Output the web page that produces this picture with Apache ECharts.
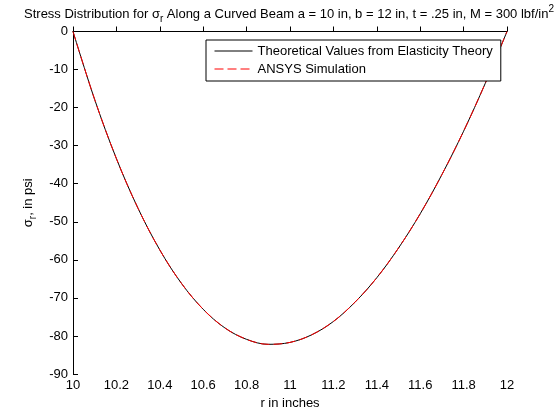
<!doctype html>
<html lang="en">
<head>
	<meta charset="utf-8" />
	<title>Stress Distribution</title>
	<script src="https://cdn.jsdelivr.net/npm/echarts@6/dist/echarts.min.js"></script>
	<style>
		html, body { margin: 0; padding: 0; background: #fff; }
		#chart { width: 560px; height: 420px; }
	</style>
</head>
<body>
	<div id="chart"></div>
	<script>
		// radius (in) and sigma_r (psi)
		const radius = [10.0, 10.1, 10.2, 10.3, 10.4, 10.5, 10.6, 10.7, 10.8, 10.9, 11.0,
			11.1, 11.2, 11.3, 11.4, 11.5, 11.6, 11.7, 11.8, 11.9, 12.0];
		const theorySigma = [0, -17.9, -33.4, -46.5, -57.4, -66.2, -73.0, -77.9, -80.9, -82.2, -81.7,
			-79.7, -76.2, -71.1, -64.7, -56.9, -47.9, -37.6, -26.2, -13.6, 0];
		const ansysSigma = [0, -17.9, -33.4, -46.5, -57.4, -66.2, -73.0, -77.9, -80.9, -82.2, -81.7,
			-79.7, -76.2, -71.1, -64.7, -56.9, -47.9, -37.6, -26.2, -13.6, 0];
		const seriesNames = ['Theoretical Values from Elasticity Theory', 'ANSYS Simulation'];
		const seriesColors = ['#000000', '#ff0000'];

		const font = '"Liberation Sans", Arial, sans-serif';
		const pair = (xs, ys) => xs.map((x, i) => [x, ys[i]]);

		const chart = echarts.init(document.getElementById('chart'), null, { renderer: 'canvas' });
		chart.setOption({
			backgroundColor: '#fff',
			animation: false,
			textStyle: { fontFamily: font },
			title: {
				text: 'Stress Distribution for {g|σ}{sub|r} Along a Curved Beam a = 10 in, b = 12 in, t = .25 in, M = 300 lbf/in{sup|2}',
				left: 289,
				top: 4,
				textAlign: 'center',
				padding: 0,
				textStyle: {
					fontFamily: font,
					fontSize: 13,
					fontWeight: 'normal',
					color: '#000',
					lineHeight: 20,
					rich: {
						g: { fontFamily: font, fontSize: 13, color: '#000', lineHeight: 20 },
						sub: { fontFamily: font, fontSize: 10, color: '#000', lineHeight: 11, verticalAlign: 'bottom' },
						sup: { fontFamily: font, fontSize: 10, color: '#000', lineHeight: 11, verticalAlign: 'top' }
					}
				}
			},
			grid: { left: 73, right: 53, top: 31.5, bottom: 46, containLabel: false },
			legend: {
				left: 206,
				top: 40,
				orient: 'vertical',
				backgroundColor: '#fff',
				borderColor: '#000',
				borderWidth: 1,
				borderRadius: 0,
				padding: [4, 8, 5, 8],
				itemGap: 4,
				itemWidth: 38,
				itemHeight: 14,
				itemStyle: { opacity: 0 },
				lineStyle: { width: 1 },
				textStyle: { fontFamily: font, fontSize: 13, color: '#000', lineHeight: 14 },
				data: seriesNames
			},
			xAxis: {
				type: 'value',
				min: 10,
				max: 12,
				interval: 0.2,
				name: 'r in inches',
				nameLocation: 'middle',
				nameGap: 23,
				nameTextStyle: { fontFamily: font, fontSize: 13, color: '#000' },
				axisLine: { lineStyle: { color: '#000', width: 1 } },
				axisTick: { inside: true, length: 5, lineStyle: { color: '#000' } },
				axisLabel: {
					margin: 5,
					fontFamily: font,
					fontSize: 13,
					color: '#000',
					formatter: v => String(Math.round(v * 10) / 10)
				},
				splitLine: { show: false }
			},
			yAxis: {
				type: 'value',
				min: -90,
				max: 0,
				interval: 10,
				name: '{g|σ}{sub|r}, in psi',
				nameLocation: 'middle',
				nameRotate: 90,
				nameGap: 28,
				nameTextStyle: {
					fontFamily: font,
					fontSize: 13,
					color: '#000',
					lineHeight: 20,
					rich: {
						g: { fontFamily: font, fontSize: 13, color: '#000', lineHeight: 20 },
						sub: { fontFamily: font, fontSize: 10, color: '#000', lineHeight: 11, verticalAlign: 'bottom' }
					}
				},
				axisLine: { onZero: false, lineStyle: { color: '#000', width: 1 } },
				axisTick: { inside: true, length: 5, lineStyle: { color: '#000' } },
				axisLabel: { margin: 5, fontFamily: font, fontSize: 13, color: '#000' },
				splitLine: { show: false }
			},
			series: [
				{
					name: seriesNames[0],
					type: 'line',
					data: pair(radius, theorySigma),
					smooth: 0.35,
					symbol: 'none',
					lineStyle: { color: seriesColors[0], width: 1 },
					itemStyle: { color: seriesColors[0] }
				},
				{
					name: seriesNames[1],
					type: 'line',
					data: pair(radius, ansysSigma),
					smooth: 0.35,
					symbol: 'none',
					lineStyle: { color: seriesColors[1], width: 1, type: [9, 4] },
					itemStyle: { color: seriesColors[1] }
				}
			]
		});
	</script>
</body>
</html>
